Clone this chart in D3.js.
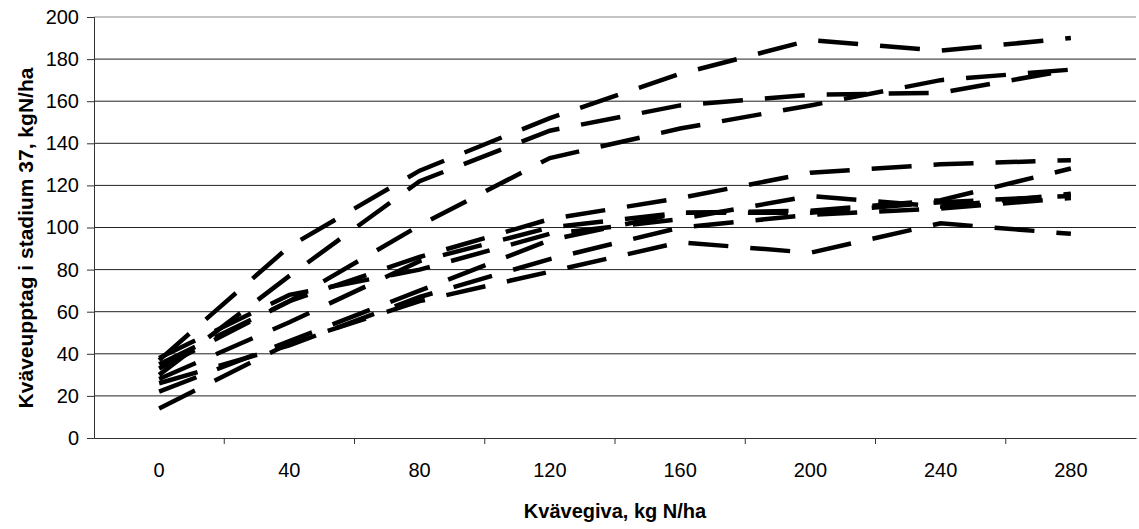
<!DOCTYPE html>
<html>
<head>
<meta charset="utf-8">
<script src="https://cdn.jsdelivr.net/npm/d3@7"></script>
<style>
  body { margin: 0; background: #fff; }
  svg text { font-family: "Liberation Sans", Arial, sans-serif; fill: #000; }
</style>
</head>
<body>
<script>
// kvävegiva (x categories)
var kvavegiva = [0, 40, 80, 120, 160, 200, 240, 280];
var yTicks = [0, 20, 40, 60, 80, 100, 120, 140, 160, 180, 200];

// kväveupptag per försök
var forsok1 = [37, 91, 127, 152, 173, 189, 184, 190];
var forsok2 = [30, 77, 122, 146, 158, 163, 164, 175];
var forsok3 = [33, 65, 101, 133, 147, 158, 170, 175];
var forsok4 = [35, 65, 86, 104, 114, 126, 130, 132];
var forsok5 = [28, 55, 84, 100, 107, 108, 113, 128];
var forsok6 = [38, 68, 80, 97, 104, 115, 110, 116];
var forsok7 = [22, 46, 70, 94, 107, 107, 112, 115];
var forsok8 = [26, 44, 67, 85, 100, 106, 109, 114];
var forsok9 = [14, 45, 65, 79, 93, 88, 102, 97];

var series = [forsok1, forsok2, forsok3, forsok4, forsok5, forsok6, forsok7, forsok8, forsok9];

var margin = { top: 17, right: 3, bottom: 91, left: 94 },
    width = 1139 - margin.left - margin.right,
    height = 529 - margin.top - margin.bottom;

var svg = d3.select("body").append("svg")
    .attr("width", 1139)
    .attr("height", 529);

var g = svg.append("g")
    .attr("transform", "translate(" + margin.left + "," + margin.top + ")");

var x = d3.scaleBand().domain(kvavegiva).range([0, width]);
var y = d3.scaleLinear().domain([0, 200]).range([height, 0]);

// gridlines
g.selectAll(".grid").data(yTicks.slice(1)).enter().append("line")
    .attr("x1", 0).attr("x2", width)
    .attr("y1", function(d) { return y(d); })
    .attr("y2", function(d) { return y(d); })
    .style("stroke", function(d) { return d == 200 ? "#888" : "#222"; })
    .style("stroke-width", 1);

// Y axis
var yAxis = g.append("g")
    .call(d3.axisLeft(y).tickValues(yTicks).tickSize(7).tickPadding(8));
yAxis.select(".domain").style("stroke", "#333");
yAxis.selectAll("line").style("stroke", "#333");
yAxis.selectAll("text").style("font-size", "20px");

// X axis: labels centred in each category, tick marks between
var xAxis = g.append("g")
    .attr("transform", "translate(0," + height + ")")
    .call(d3.axisBottom(x).tickSize(0).tickPadding(25));
xAxis.select(".domain").style("stroke", "#333");
xAxis.selectAll("text").style("font-size", "20px");

g.append("g").selectAll("line").data(kvavegiva.slice(1)).enter().append("line")
    .attr("x1", function(d) { return x(d); })
    .attr("x2", function(d) { return x(d); })
    .attr("y1", height).attr("y2", height + 6)
    .style("stroke", "#333");

// lines
var line = d3.line()
    .x(function(d, i) { return x(kvavegiva[i]) + x.bandwidth() / 2; })
    .y(function(d) { return y(d); });

g.selectAll(".serie").data(series).enter().append("path")
    .attr("d", line)
    .style("fill", "none")
    .style("stroke", "#000")
    .style("stroke-width", 4.5)
    .style("stroke-dasharray", "40,22");

// titles
svg.append("text")
    .attr("x", margin.left + width / 2)
    .attr("y", 518)
    .attr("text-anchor", "middle")
    .style("font-size", "20px")
    .style("font-weight", "bold")
    .text("Kvävegiva, kg N/ha");

svg.append("text")
    .attr("transform", "translate(33,238) rotate(-90)")
    .attr("text-anchor", "middle")
    .style("font-size", "21px")
    .style("font-weight", "bold")
    .text("Kväveupptag i stadium 37, kgN/ha");
</script>
</body>
</html>
